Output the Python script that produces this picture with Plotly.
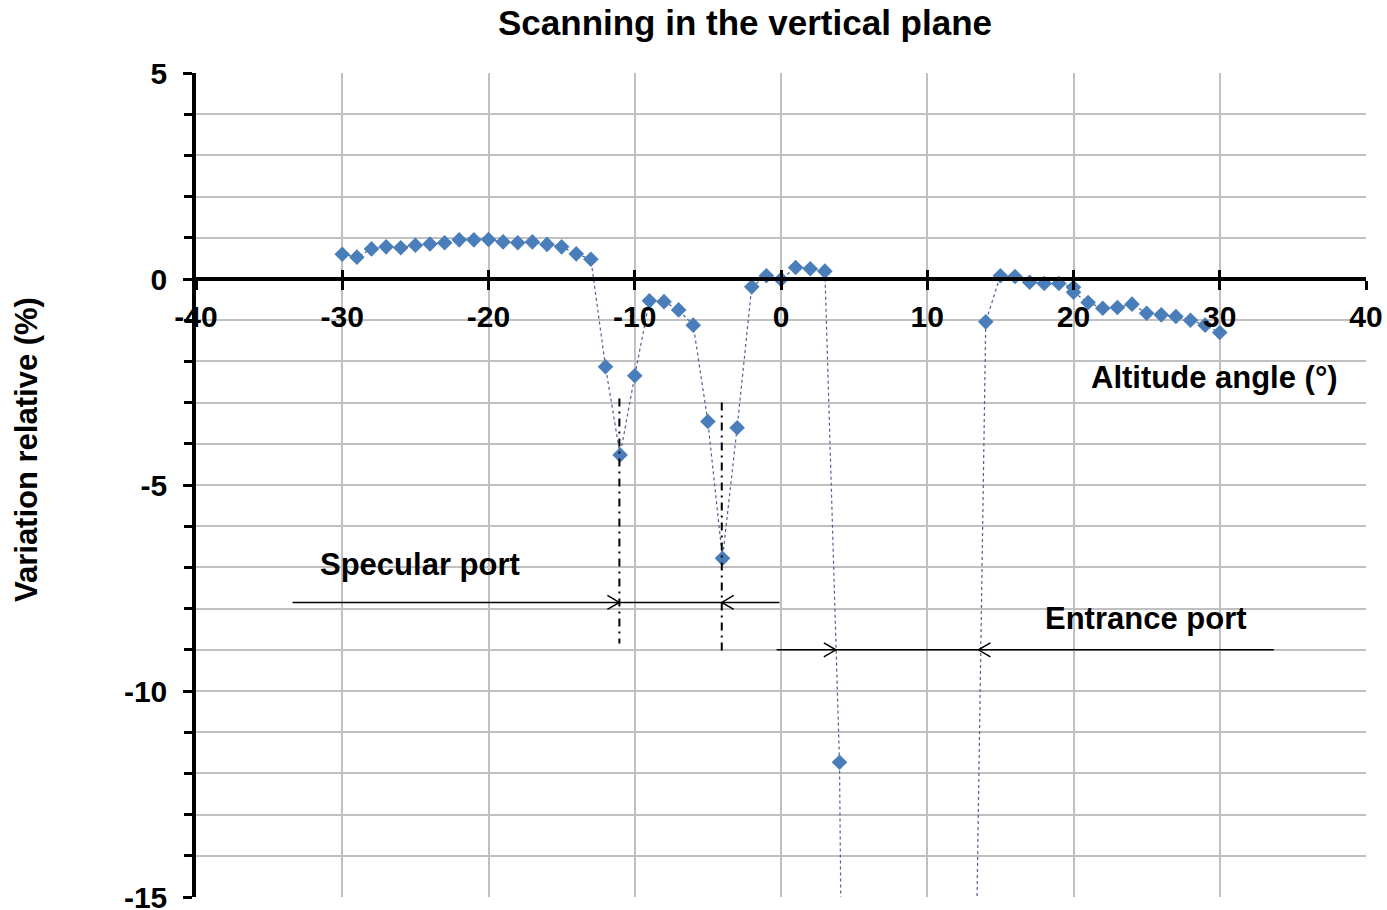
import plotly.graph_objects as go

# ---- data ----
angle = [-30, -29, -28, -27, -26, -25, -24, -23, -22, -21, -20, -19, -18, -17, -16,
         -15, -14, -13, -12, -11, -10, -9, -8, -7, -6, -5, -4, -3, -2, -1, 0, 1, 2, 3,
         4, 5, 13, 14, 15, 16, 17, 18, 19, 20, 20, 21, 22, 23, 24, 25, 26, 27, 28, 29, 30]
variation = [0.60, 0.53, 0.73, 0.78, 0.76, 0.82, 0.85, 0.88, 0.95, 0.95, 0.96, 0.90, 0.88, 0.90, 0.84,
             0.78, 0.61, 0.48, -2.13, -4.27, -2.35, -0.53, -0.55, -0.75, -1.12, -3.46, -6.78, -3.61, -0.19, 0.08, -0.01, 0.28, 0.25, 0.19,
             -11.73, -50.0, -24.5, -1.04, 0.08, 0.06, -0.08, -0.11, -0.11, -0.20, -0.32, -0.57, -0.71, -0.69, -0.61, -0.83, -0.87, -0.91, -1.00, -1.12, -1.30]

x_ticks = [-40, -30, -20, -10, 0, 10, 20, 30, 40]
y_ticks = [5, 0, -5, -10, -15]

# annotation geometry (data units)
specular_y = -7.85
specular_span = [-33.4, -0.1]
specular_marks = [-11.05, -4.05]        # left/right arrow tips & dash-dot guides
guide_ranges = [[-2.9, -8.85], [-3.0, -9.05]]
entrance_y = -9.0
entrance_span = [-0.3, 33.7]
entrance_marks = [3.75, 13.5]

W, H = 1387, 910
ML, MR, MT, MB = 196, 21, 73, 13
XR = [-40, 40]
YR = [-15, 5]
px_x = (W - ML - MR) / (XR[1] - XR[0])
px_y = (H - MT - MB) / (YR[1] - YR[0])

FONT = "Liberation Sans, Arial, Helvetica, sans-serif"

fig = go.Figure()
fig.add_trace(go.Scatter(
    x=angle, y=variation, mode="lines+markers",
    line=dict(color="#4F5F96", width=1.2, dash="dot"),
    marker=dict(symbol="diamond", size=12, color="#4A7EBB"),
    showlegend=False, hoverinfo="skip",
))

shapes = []
# dash-dot guides
for xm, (y0, y1) in zip(specular_marks, guide_ranges):
    shapes.append(dict(type="line", xref="x", yref="y", x0=xm, x1=xm, y0=y0, y1=y1,
                       line=dict(color="black", width=2, dash="8px,5px,2px,5px")))
# horizontal port lines
shapes.append(dict(type="line", xref="x", yref="y", x0=specular_span[0], x1=specular_span[1],
                   y0=specular_y, y1=specular_y, line=dict(color="black", width=1.5)))
shapes.append(dict(type="line", xref="x", yref="y", x0=entrance_span[0], x1=entrance_span[1],
                   y0=entrance_y, y1=entrance_y, line=dict(color="black", width=1.5)))

# open V arrowheads
AL = 12 / px_x
AH = 7 / px_y
def vhead(xt, yt, direction):
    xb = xt - direction * AL
    return dict(type="path", xref="x", yref="y",
                path=f"M {xb},{yt + AH} L {xt},{yt} L {xb},{yt - AH}",
                line=dict(color="black", width=1.5))
shapes.append(vhead(specular_marks[0], specular_y, 1))
shapes.append(vhead(specular_marks[1], specular_y, -1))
shapes.append(vhead(entrance_marks[0], entrance_y, 1))
shapes.append(vhead(entrance_marks[1], entrance_y, -1))

bold = dict(family=FONT, size=31, color="black", weight="bold")
annotations = [
    dict(text="Specular port", x=-24.7, y=-6.94, xref="x", yref="y", showarrow=False,
         font=bold, xanchor="center", yanchor="middle"),
    dict(text="Entrance port", x=24.96, y=-8.25, xref="x", yref="y", showarrow=False,
         font=bold, xanchor="center", yanchor="middle"),
    dict(text="Altitude angle (°)", x=29.64, y=-2.40, xref="x", yref="y", showarrow=False,
         font=bold, xanchor="center", yanchor="middle"),
    dict(text="Variation relative (%)", x=(27 - ML) / (W - ML - MR), y=(H - MB - 450) / (H - MT - MB),
         xref="paper", yref="paper", showarrow=False, textangle=-90,
         font=bold, xanchor="center", yanchor="middle"),
]

grid = "#C0C0C0"
tickfont = dict(family=FONT, size=30, color="black", weight="bold")
zero_pos = (0 - YR[0]) / (YR[1] - YR[0])

fig.update_layout(
    width=W, height=H, autosize=False,
    margin=dict(l=ML, r=MR, t=MT, b=MB, pad=0),
    paper_bgcolor="white", plot_bgcolor="white",
    title=dict(text="Scanning in the vertical plane", x=(745 - ML) / (W - ML - MR), xref="paper",
               xanchor="center", y=1 - 23 / H, yref="container", yanchor="middle",
               automargin=False,
               font=dict(family=FONT, size=35, color="black", weight="bold")),
    xaxis=dict(range=XR, tickvals=x_ticks, ticktext=[str(v) for v in x_ticks],
               showgrid=True, gridcolor=grid, gridwidth=1.5, zeroline=False,
               showline=True, linecolor="black", linewidth=3.5,
               anchor="free", position=zero_pos, side="bottom", automargin=False,
               ticks="outside", ticklen=9, tickwidth=3, tickcolor="black",
               tickfont=tickfont, ticklabelstandoff=1, ticklabeloverflow="allow"),
    xaxis2=dict(range=XR, overlaying="x", anchor="free", position=zero_pos, side="bottom",
                tickvals=x_ticks, showticklabels=False, showgrid=False, zeroline=False,
                automargin=False,
                showline=False, ticks="inside", ticklen=9, tickwidth=3, tickcolor="black"),
    yaxis=dict(range=YR, tickvals=y_ticks, ticktext=[str(v) for v in y_ticks],
               showgrid=True, gridcolor=grid, gridwidth=1.5, zeroline=False,
               showline=True, linecolor="black", linewidth=3.5, automargin=False,
               ticks="outside", ticklen=9, tickwidth=3, tickcolor="black",
               tickfont=tickfont, ticklabelstandoff=10, ticklabeloverflow="allow",
               minor=dict(dtick=1, tick0=0, ticks="outside", ticklen=8, tickwidth=3,
                          tickcolor="black", showgrid=True, gridcolor=grid, gridwidth=1.5)),
    shapes=shapes,
    annotations=annotations,
)

# an invisible trace to make xaxis2 active
fig.add_trace(go.Scatter(x=[None], y=[None], xaxis="x2", showlegend=False, hoverinfo="skip"))

fig.write_html("out.html", config={"displayModeBar": False},
               post_script="document.body.style.margin='0';document.body.style.overflow='hidden';")
